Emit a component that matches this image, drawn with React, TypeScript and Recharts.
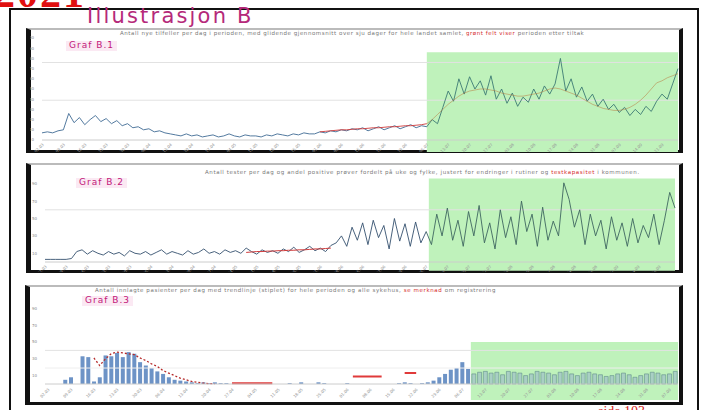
import React from 'react';
import { ComposedChart, Line, Bar, Cell, XAxis, YAxis, ReferenceArea, ReferenceLine } from 'recharts';

// tick labels (week starts)
const dates = ['02.03', '09.03', '16.03', '23.03', '30.03', '06.04', '13.04', '20.04', '27.04', '04.05',
  '11.05', '18.05', '25.05', '01.06', '08.06', '15.06', '22.06', '29.06', '06.07', '13.07',
  '20.07', '27.07', '03.08', '10.08', '17.08', '24.08', '31.08', '07.09', '14.09', '21.09'];

// Graf B.1
const p1Main = [7, 8, 7, 9, 10,
  26, 17, 22, 15, 20, 24, 18, 21, 16, 19, 14, 16, 12, 13, 10, 11, 8, 9, 7, 6,
  5, 4, 6, 4, 5, 3, 4, 5, 3, 4, 6, 4, 3, 5, 4, 4, 3, 5, 4, 6, 5, 4, 6, 5, 7, 6,
  6, 8, 7, 9, 8, 10, 9, 11, 10, 12, 9, 11, 13, 10, 12, 14, 11, 13, 15, 12, 14,
  13, 20, 16, 32, 48, 38, 60, 45, 62, 50, 58, 44, 63, 40, 50, 36, 46, 33, 42, 37,
  50, 40, 53, 45, 55, 80, 48, 60, 42, 52, 38, 45, 33, 40, 30, 35, 27, 32, 24, 30,
  25, 33, 28, 38, 45, 40, 55, 70];
const p1TrendStart = 52;
const p1Trend = [8, 8.5, 9, 9.5, 10, 10, 10.5, 11, 11, 11.5, 12, 12, 12.5, 13, 13, 13.5, 14, 14, 14.5, 15,
  16, 20, 25, 30, 35, 39, 43, 46, 48, 49, 50, 50, 49, 48, 46, 45, 44, 43, 43, 44,
  45, 46, 48, 50, 51, 50, 48, 46, 44, 41, 38, 35, 33, 31, 30, 29, 29, 30, 32, 35,
  39, 44, 50, 56, 58, 61, 63, 65];
const p1Split = 72;

// Graf B.2
const p2Main = [3, 3, 3, 3, 3, 4,
  12, 14, 9, 13, 10, 8, 12, 9, 11, 7, 13, 10, 9, 12, 8, 11, 14, 9, 12, 10, 8, 13, 9, 11, 15,
  10, 12, 9, 14, 11, 13, 10, 16, 12, 9, 14, 11, 13, 10, 15, 12, 17, 11, 14, 18, 13, 16, 12, 19,
  22, 30, 18, 40, 25, 45, 20, 48, 28, 42, 15, 50, 24, 44, 18, 46, 22,
  35, 20, 55, 30, 62, 25, 48, 18, 58, 30, 65, 22, 45, 15, 60, 28, 52, 20, 70, 35,
  55, 18, 63, 25, 47, 30, 91, 72, 40, 60, 20, 55, 30, 48, 15, 52, 25, 45, 18, 50,
  22, 42, 28, 55, 20, 48, 80, 62];
const p2TrendStart = 38;
const p2Trend = [11, 11.5, 12, 12, 12.5, 12.5, 13, 13, 13.5, 13.5, 14, 14, 14.5, 15, 15, 15.5, 16];
const p2Split = 72;

// Graf B.3
const p3Bars = [0, 0, 0,
  5, 8, 0, 33, 32, 3, 8, 34, 33, 37, 32, 38, 36, 26, 22, 19, 15, 12, 8, 5, 4, 3,
  2, 1, 2, 1, 2, 1, 1, 0, 0, 0, 0,
  0, 0, 0, 0, 0,
  0, 1, 0, 2, 0, 0, 2, 1, 0, 0, 0, 1, 0, 0, 0,
  0, 0, 0, 0, 0,
  1, 2, 1, 0, 1, 2,
  4, 8, 12, 17, 19, 26, 18,
  12, 14, 15, 13, 14, 11, 15, 14, 13, 10, 12, 15, 14, 13, 11, 14, 15, 12, 10, 13,
  14, 12, 11, 9, 10, 12, 13, 11, 8, 10, 12, 14, 13, 11, 12, 15];
const p3TrendStart = 8;
const p3Trend = [31, 22, 30, 36, 38, 37, 36, 35, 31, 28, 24, 21, 16, 13, 10, 7, 5, 3, 2, 1, 0.5, 0.3];
const p3LowStart = 32;
const p3Low = [1, 1, 1, 1, 1, 1, 1, 1,
  null, null, null, null, null, null, null, null, null, null, null, null, null,
  9, 9, 9, 9, 9, 9, null, null, null, 13, 13, 13];
const p3Split = 74;

const pick = (arr: (number | null)[], start: number, i: number) =>
  i >= start && i < start + arr.length ? arr[i - start] : null;

const data1 = p1Main.map((v, i) => {
  const t = pick(p1Trend, p1TrendStart, i);
  return {
    i,
    a: i <= p1Split ? v : null, b: i >= p1Split ? v : null,
    t: i <= p1Split ? t : null, t2: i >= p1Split ? t : null,
  };
});
const data2 = p2Main.map((v, i) => ({
  i, a: i <= p2Split ? v : null, b: i >= p2Split ? v : null, t: pick(p2Trend, p2TrendStart, i),
}));
const data3 = p3Bars.map((v, i) => ({ i, v, t: pick(p3Trend, p3TrendStart, i), r: pick(p3Low, p3LowStart, i) }));

const green = '#bff2bb';
const font = "'DejaVu Sans', sans-serif";
const xTick = { fontSize: 4, fill: '#999', textAnchor: 'end' as const };
const yTick = { fontSize: 4, fill: '#888' };
const everyFourth = dates.map((_, k) => k * 4);

const caption = (left: number, top: number, spacing: number, text: string, red: string, rest: string) => (
  <div style={{ position: 'absolute', left, top, fontSize: 5.5, color: '#777', whiteSpace: 'nowrap', fontFamily: font, letterSpacing: spacing, lineHeight: 1 }}>
    {text}<span style={{ color: '#d42a2a' }}>{red}</span>{rest}
  </div>
);

const grafLabel = (left: number, top: number, text: string) => (
  <div style={{ position: 'absolute', left, top, fontSize: 9, lineHeight: 1.1, color: '#c2187a', background: '#fbe9f3', padding: '0 3px', letterSpacing: 1, fontFamily: font }}>
    {text}
  </div>
);

const box = (left: number, top: number, width: number, height: number) => (
  <div style={{
    position: 'absolute', left, top, width, height, boxSizing: 'border-box',
    borderLeft: '5px solid #111', borderRight: '4px solid #111', borderBottom: '3px solid #111', borderTop: '2px solid #bbb',
  }} />
);

export default function App() {
  return (
    <div style={{ position: 'absolute', left: 0, top: 0, width: 705, height: 410, overflow: 'hidden', background: '#fff', fontFamily: font }}>
      <div style={{ position: 'absolute', left: -6, top: -28, fontSize: 42, lineHeight: 1, fontWeight: 'bold', color: '#e01010', fontFamily: "'Liberation Serif', serif", letterSpacing: 2 }}>2021</div>
      <div style={{ position: 'absolute', left: 9, top: 8, width: 690, height: 420, border: '2px solid #111', boxSizing: 'border-box' }} />
      <div style={{ position: 'absolute', left: 87, top: 6, fontSize: 21, color: '#b5297a', letterSpacing: 2.2, lineHeight: 1 }}>Illustrasjon B</div>

      {box(26, 28, 657, 125)}
      {box(26, 163, 657, 110)}
      {box(25, 285, 658, 120)}

      <div style={{ position: 'absolute', left: 30, top: 30 }}>
        <ComposedChart width={650} height={122} data={data1} margin={{ top: 8, right: 2, bottom: 0, left: 4 }}>
          <XAxis type="number" dataKey="i" domain={[0, 119]} ticks={everyFourth} tickFormatter={(v) => dates[v / 4]}
            height={12} tickSize={1} tick={xTick} angle={-45} tickLine={false} axisLine={{ stroke: '#ccc' }} interval={0} />
          <YAxis domain={[0, 100]} ticks={[0, 10, 20, 30, 40, 50, 60, 70, 80, 90, 100]} width={8} tick={yTick} tickLine={false} axisLine={false} />
          <ReferenceArea x1={72} x2={119} y1={-12} y2={86} fill={green} fillOpacity={1} stroke="none" ifOverflow="visible" />
          <ReferenceLine y={76} stroke="#e2e2e2" />
          <ReferenceLine y={39} stroke="#e2e2e2" />
          <Line dataKey="a" stroke="#3f6b94" strokeWidth={0.9} dot={false} isAnimationActive={false} />
          <Line dataKey="b" stroke="#3d7a74" strokeWidth={0.9} dot={false} isAnimationActive={false} />
          <Line dataKey="t" stroke="#d03a3a" strokeWidth={0.9} dot={false} isAnimationActive={false} />
          <Line dataKey="t2" stroke="#b8743a" strokeWidth={0.9} strokeOpacity={0.55} dot={false} isAnimationActive={false} />
        </ComposedChart>
      </div>

      <div style={{ position: 'absolute', left: 30, top: 165 }}>
        <ComposedChart width={650} height={107} data={data2} margin={{ top: 10, right: 5, bottom: 0, left: 3 }}>
          <XAxis type="number" dataKey="i" domain={[0, 119]} ticks={everyFourth} tickFormatter={(v) => dates[v / 4]}
            height={10} tickSize={1} tick={xTick} angle={-45} tickLine={false} axisLine={{ stroke: '#ccc' }} interval={0} />
          <YAxis domain={[0, 100]} ticks={[0, 10, 20, 30, 40, 50, 60, 70, 80, 90]} width={12} tick={yTick} tickLine={false} axisLine={false} />
          <ReferenceArea x1={72.5} x2={119} y1={-10} y2={96} fill={green} fillOpacity={1} stroke="none" ifOverflow="visible" />
          <ReferenceLine y={60} stroke="#e2e2e2" />
          <Line dataKey="a" stroke="#34506e" strokeWidth={0.9} dot={false} isAnimationActive={false} />
          <Line dataKey="b" stroke="#3e6660" strokeWidth={0.9} dot={false} isAnimationActive={false} />
          <Line dataKey="t" stroke="#d03a3a" strokeWidth={1} dot={false} isAnimationActive={false} />
        </ComposedChart>
      </div>

      <div style={{ position: 'absolute', left: 30, top: 287 }}>
        <ComposedChart width={650} height={116} data={data3} margin={{ top: 13, right: 2, bottom: 4, left: 3 }} barCategoryGap={1}>
          <XAxis dataKey="i" interval={3} tickFormatter={(v) => dates[v / 4]} height={15} tickSize={2} tick={xTick} angle={-45}
            tickLine={false} axisLine={{ stroke: '#ccc' }} />
          <YAxis domain={[0, 100]} ticks={[0, 10, 20, 30, 40, 50, 60, 70, 80, 90]} width={12} tick={yTick} tickLine={false} axisLine={false} />
          <ReferenceArea x1={74} x2={109} y1={-19} y2={50} fill={green} fillOpacity={1} stroke="none" ifOverflow="visible" />
          <ReferenceLine y={40} stroke="#e2e2e2" />
          <ReferenceLine y={19} stroke="#eeeeee" />
          <Bar dataKey="v" barSize={4} isAnimationActive={false}>
            {data3.map((d) => (
              <Cell key={d.i} fill={d.i >= p3Split ? '#a9cfc4' : '#6d93c6'} stroke={d.i >= p3Split ? '#5f8f8a' : 'none'} strokeWidth={0.6} />
            ))}
          </Bar>
          <Line dataKey="r" stroke="#e03a3a" strokeWidth={2} dot={false} isAnimationActive={false} />
          <Line dataKey="t" stroke="#b52a2a" strokeWidth={1.3} strokeDasharray="2 2" dot={false} isAnimationActive={false} />
        </ComposedChart>
      </div>

      {caption(120, 31, 0.55, 'Antall nye tilfeller per dag i perioden, med glidende gjennomsnitt over sju dager for hele landet samlet, ', 'grønt felt viser', ' perioden etter tiltak')}
      {caption(205, 170, 0.6, 'Antall tester per dag og andel positive prøver fordelt på uke og fylke, justert for endringer i rutiner og ', 'testkapasitet', ' i kommunen.')}
      {caption(95, 288, 0.6, 'Antall innlagte pasienter per dag med trendlinje (stiplet) for hele perioden og alle sykehus, ', 'se merknad', ' om registrering')}

      {grafLabel(66, 41, 'Graf B.1')}
      {grafLabel(76, 178, 'Graf B.2')}
      {grafLabel(82, 296, 'Graf B.3')}

      <div style={{ position: 'absolute', left: 598, top: 404, fontSize: 14, color: '#d42020', fontFamily: "'Liberation Serif', serif", whiteSpace: 'nowrap' }}>side 103</div>
    </div>
  );
}
